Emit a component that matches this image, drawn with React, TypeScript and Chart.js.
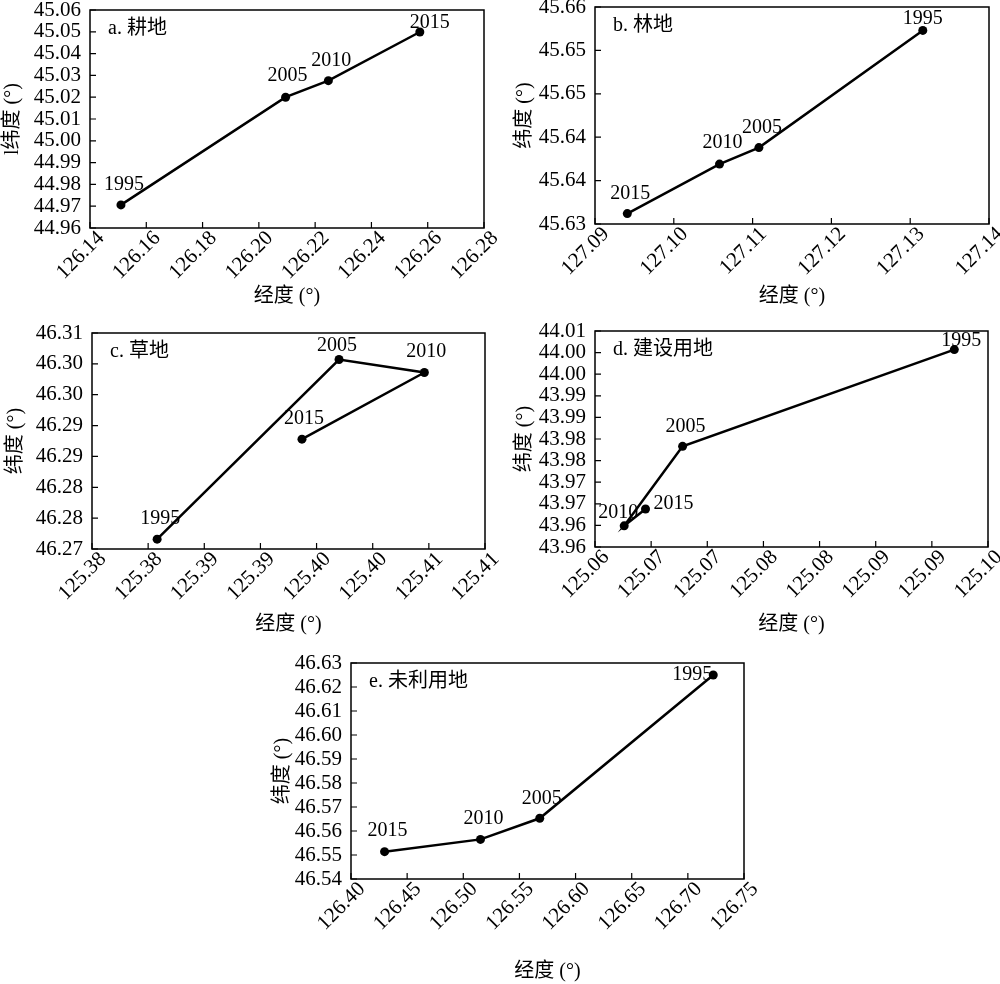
import React, { useEffect, useRef } from 'react';
import { Chart, registerables } from 'chart.js';

Chart.register(...registerables);

// ---------- data ----------
const years = ['1995', '2005', '2010', '2015'];

const aLon = [126.151, 126.2095, 126.2247, 126.2572];
const aLat = [44.9706, 45.02, 45.0276, 45.0499];

const bLon = [127.1316, 127.1108, 127.1058, 127.0941];
const bLat = [45.6523, 45.6388, 45.6369, 45.6312];

const cLon = [125.3808, 125.397, 125.4046, 125.3937];
const cLat = [46.2716, 46.3007, 46.2986, 46.2878];

const dLon = [125.092, 125.0678, 125.0626, 125.0645];
const dLat = [44.0007, 43.9783, 43.9599, 43.9638];

const eLon = [126.7226, 126.5681, 126.5153, 126.4299];
const eLat = [46.625, 46.5653, 46.5565, 46.5514];

// axis ranges [min, max, step]
const aXRange = [126.14, 126.28, 0.02];
const aYRange = [44.96, 45.06, 0.01];
const bXRange = [127.09, 127.14, 0.01];
const bYRange = [45.63, 45.655, 0.005];
const cXRange = [125.375, 125.41, 0.005];
const cYRange = [46.27, 46.305, 0.005];
const dXRange = [125.06, 125.095, 0.005];
const dYRange = [43.955, 44.005, 0.005];
const eXRange = [126.4, 126.75, 0.05];
const eYRange = [46.54, 46.63, 0.01];

// tick labels (as printed in the figure)
const aXLabels = ['126.14', '126.16', '126.18', '126.20', '126.22', '126.24', '126.26', '126.28'];
const aYLabels = ['44.96', '44.97', '44.98', '44.99', '45.00', '45.01', '45.02', '45.03', '45.04', '45.05', '45.06'];
const bXLabels = ['127.09', '127.10', '127.11', '127.12', '127.13', '127.14'];
const bYLabels = ['45.63', '45.64', '45.64', '45.65', '45.65', '45.66'];
const cXLabels = ['125.38', '125.38', '125.39', '125.39', '125.40', '125.40', '125.41', '125.41'];
const cYLabels = ['46.27', '46.28', '46.28', '46.29', '46.29', '46.30', '46.30', '46.31'];
const dXLabels = ['125.06', '125.07', '125.07', '125.08', '125.08', '125.09', '125.09', '125.10'];
const dYLabels = ['43.96', '43.96', '43.97', '43.97', '43.98', '43.98', '43.99', '43.99', '44.00', '44.00', '44.01'];
const eXLabels = ['126.40', '126.45', '126.50', '126.55', '126.60', '126.65', '126.70', '126.75'];
const eYLabels = ['46.54', '46.55', '46.56', '46.57', '46.58', '46.59', '46.60', '46.61', '46.62', '46.63'];

const titles = ['a. 耕地', 'b. 林地', 'c. 草地', 'd. 建设用地', 'e. 未利用地'];
const xTitle = '经度 (°)';
const yTitles = ['l纬度 (°)', '纬度 (°)', '纬度 (°)', '纬度 (°)', '纬度 (°)'];

// ---------- style / layout ----------
const FONT = "'Liberation Serif', 'Noto Sans CJK SC', serif";
const PAD_TOP = 14;
const PAD_RIGHT = 20;

type PanelCfg = {
  lon: number[];
  lat: number[];
  xr: number[];
  yr: number[];
  xl: string[];
  yl: string[];
  title: string;
  yTitle: string;
  left: number;
  top: number;
  yAxisW: number;
  xAxisH: number;
  plotW: number;
  plotH: number;
  yTitlePad: number;
  labelOffsets: number[][];
};

const panels: PanelCfg[] = [
  {
    lon: aLon, lat: aLat, xr: aXRange, yr: aYRange, xl: aXLabels, yl: aYLabels,
    title: titles[0], yTitle: yTitles[0],
    left: 0, top: 10 - PAD_TOP, yAxisW: 90, xAxisH: 81, plotW: 394, plotH: 218, yTitlePad: 1,
    labelOffsets: [[3, -20], [2, -21], [3, -20], [10, -9]],
  },
  {
    lon: bLon, lat: bLat, xr: bXRange, yr: bYRange, xl: bXLabels, yl: bYLabels,
    title: titles[1], yTitle: yTitles[1],
    left: 510, top: 7 - PAD_TOP, yAxisW: 85, xAxisH: 85, plotW: 394, plotH: 217, yTitlePad: 3,
    labelOffsets: [[0, -12], [3, -20], [3, -21], [3, -20]],
  },
  {
    lon: cLon, lat: cLat, xr: cXRange, yr: cYRange, xl: cXLabels, yl: cYLabels,
    title: titles[2], yTitle: yTitles[2],
    left: 1, top: 333 - PAD_TOP, yAxisW: 91, xAxisH: 88, plotW: 393, plotH: 216, yTitlePad: 3,
    labelOffsets: [[3, -20], [-2, -14], [2, -21], [2, -20]],
  },
  {
    lon: dLon, lat: dLat, xr: dXRange, yr: dYRange, xl: dXLabels, yl: dYLabels,
    title: titles[3], yTitle: yTitles[3],
    left: 510, top: 331 - PAD_TOP, yAxisW: 85, xAxisH: 90, plotW: 393, plotH: 216, yTitlePad: 3,
    labelOffsets: [[7, -9], [3, -20], [-6, -13], [28, -5]],
  },
  {
    lon: eLon, lat: eLat, xr: eXRange, yr: eYRange, xl: eXLabels, yl: eYLabels,
    title: titles[4], yTitle: yTitles[4],
    left: 268, top: 663 - PAD_TOP, yAxisW: 83, xAxisH: 105, plotW: 393, plotH: 216, yTitlePad: 3,
    labelOffsets: [[-21, 0], [2, -20], [3, -21], [3, -21]],
  },
];

function labelFor(labels: string[], range: number[], v: number) {
  const i = Math.round((v - range[0]) / range[2]);
  return labels[i] ?? '';
}

function zeroPadding(s: any) {
  s.paddingTop = 0;
  s.paddingBottom = 0;
  s.paddingLeft = 0;
  s.paddingRight = 0;
}

function Panel({ cfg }: { cfg: PanelCfg }) {
  const ref = useRef<HTMLCanvasElement>(null);
  const width = cfg.yAxisW + cfg.plotW + PAD_RIGHT;
  const height = PAD_TOP + cfg.plotH + cfg.xAxisH;

  useEffect(() => {
    if (!ref.current) return;

    const framePlugin = {
      id: 'frame',
      afterDraw(chart: any) {
        const { ctx, chartArea } = chart;
        const { left, top, right, bottom } = chartArea;
        ctx.save();
        ctx.strokeStyle = '#000';
        ctx.lineWidth = 1.5;
        ctx.strokeRect(left, top, right - left, bottom - top);
        // inward ticks
        ctx.lineWidth = 1.2;
        const xs = chart.scales.x;
        const ys = chart.scales.y;
        ctx.beginPath();
        xs.ticks.forEach((t: any) => {
          const px = xs.getPixelForValue(t.value);
          ctx.moveTo(px, bottom);
          ctx.lineTo(px, bottom - 6);
        });
        ys.ticks.forEach((t: any) => {
          const py = ys.getPixelForValue(t.value);
          ctx.moveTo(left, py);
          ctx.lineTo(left + 6, py);
        });
        ctx.stroke();
        // panel title
        ctx.fillStyle = '#000';
        ctx.font = `20px ${FONT}`;
        ctx.textAlign = 'left';
        ctx.textBaseline = 'middle';
        ctx.fillText(cfg.title, left + 18, top + 19);
        ctx.restore();
      },
    };

    const labelPlugin = {
      id: 'yearLabels',
      afterDatasetsDraw(chart: any) {
        const { ctx } = chart;
        const meta = chart.getDatasetMeta(0);
        ctx.save();
        ctx.fillStyle = '#000';
        ctx.font = `20px ${FONT}`;
        ctx.textAlign = 'center';
        ctx.textBaseline = 'middle';
        meta.data.forEach((pt: any, i: number) => {
          const off = cfg.labelOffsets[i];
          ctx.fillText(years[i], pt.x + off[0], pt.y + off[1]);
        });
        ctx.restore();
      },
    };

    const tickFont = { size: 21, family: FONT };
    const titleFont = { size: 20, family: FONT };

    const chart = new Chart(ref.current, {
      type: 'scatter',
      data: {
        datasets: [
          {
            data: cfg.lon.map((x, i) => ({ x, y: cfg.lat[i] })),
            showLine: true,
            borderColor: '#000',
            backgroundColor: '#000',
            borderWidth: 2.5,
            pointRadius: 4.5,
            pointBackgroundColor: '#000',
            pointBorderColor: '#000',
            pointBorderWidth: 0,
          },
        ],
      },
      options: {
        responsive: false,
        animation: false,
        devicePixelRatio: 1,
        layout: { padding: { top: PAD_TOP, right: PAD_RIGHT, left: 0, bottom: 0 } },
        plugins: { legend: { display: false }, tooltip: { enabled: false } },
        scales: {
          x: {
            type: 'linear',
            position: 'bottom',
            min: cfg.xr[0],
            max: cfg.xr[1],
            ticks: {
              stepSize: cfg.xr[2],
              autoSkip: false,
              minRotation: 45,
              maxRotation: 45,
              padding: -2,
              labelOffset: 11,
              color: '#000',
              font: tickFont,
              callback: (v: any) => labelFor(cfg.xl, cfg.xr, Number(v)),
            },
            grid: { display: false, drawTicks: false },
            border: { display: false },
            title: {
              display: true,
              text: xTitle,
              color: '#000',
              font: titleFont,
              padding: { top: 0, bottom: 0 },
            },
            afterFit: (s: any) => {
              s.height = cfg.xAxisH;
              zeroPadding(s);
            },
          },
          y: {
            type: 'linear',
            min: cfg.yr[0],
            max: cfg.yr[1],
            ticks: {
              stepSize: cfg.yr[2],
              autoSkip: false,
              padding: 9,
              color: '#000',
              font: tickFont,
              callback: (v: any) => labelFor(cfg.yl, cfg.yr, Number(v)),
            },
            grid: { display: false, drawTicks: false },
            border: { display: false },
            title: {
              display: true,
              text: cfg.yTitle,
              color: '#000',
              font: titleFont,
              padding: { top: cfg.yTitlePad, bottom: 0 },
            },
            afterFit: (s: any) => {
              s.width = cfg.yAxisW;
              zeroPadding(s);
            },
          },
        },
      } as any,
      plugins: [framePlugin, labelPlugin],
    });
    return () => chart.destroy();
  }, []);

  return (
    <canvas
      ref={ref}
      width={width}
      height={height}
      style={{ position: 'absolute', left: cfg.left, top: cfg.top, width, height }}
    />
  );
}

export default function App() {
  return (
    <div
      style={{
        position: 'absolute',
        left: 0,
        top: 0,
        width: 1000,
        height: 984,
        overflow: 'hidden',
        background: '#fff',
      }}
    >
      {panels.map((p, i) => (
        <Panel key={i} cfg={p} />
      ))}
    </div>
  );
}
